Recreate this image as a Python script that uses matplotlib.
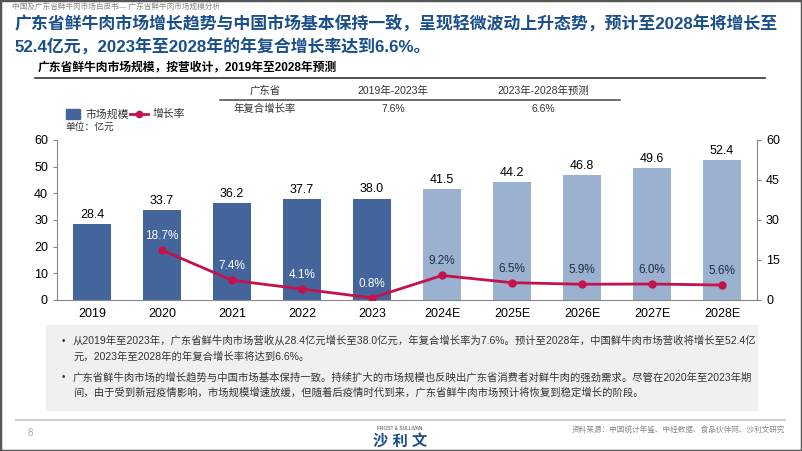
import matplotlib
matplotlib.use("Agg")
import matplotlib.pyplot as plt
from matplotlib.patches import Rectangle
from matplotlib.lines import Line2D

plt.rcParams['font.family'] = ['Liberation Sans', 'Noto Sans CJK SC']

# 数据
years = ["2019", "2020", "2021", "2022", "2023", "2024E", "2025E", "2026E", "2027E", "2028E"]
market_size = [28.4, 33.7, 36.2, 37.7, 38.0, 41.5, 44.2, 46.8, 49.6, 52.4]
growth_years = ["2020", "2021", "2022", "2023", "2024E", "2025E", "2026E", "2027E", "2028E"]
growth_rate = [18.7, 7.4, 4.1, 0.8, 9.2, 6.5, 5.9, 6.0, 5.6]
n_actual = 5

cagr_header = ["广东省", "2019年-2023年", "2023年-2028年预测"]
cagr_row = ["年复合增长率", "7.6%", "6.6%"]

W, H = 802, 451
DARK = "#44659b"
LIGHT = "#9bb1d0"
RED = "#c4124a"
TITLE = "#1b4f8a"


def px(x, y):
    return x / W, 1 - y / H


def main():
    fig = plt.figure(figsize=(W / 100, H / 100), dpi=100)

    # 外框
    fig.patches.append(Rectangle((0, 0), 1, 1, transform=fig.transFigure,
                                 fill=False, ec="#555555", lw=2.5))

    fig.text(*px(12, 7), "中国及广东省鲜牛肉市场白皮书— 广东省鲜牛肉市场规模分析",
             fontsize=5.5, color="#888888", va="center")
    fig.text(*px(15, 24), "广东省鲜牛肉市场增长趋势与中国市场基本保持一致，呈现轻微波动上升态势，预计至2028年将增长至",
             fontsize=12.2, color=TITLE, fontweight="bold", va="center")
    fig.text(*px(15, 47), "52.4亿元，2023年至2028年的年复合增长率达到6.6%。",
             fontsize=12.2, color=TITLE, fontweight="bold", va="center")

    fig.text(*px(38, 68), "广东省鲜牛肉市场规模，按营收计，2019年至2028年预测",
             fontsize=8.5, fontweight="bold", va="center")
    fig.lines.append(Line2D([35 / W, 765 / W], [1 - 78 / H] * 2, color="#333333", lw=1.2,
                            transform=fig.transFigure))

    # 复合增长率表
    col_x = [265, 393, 543]
    for x, h in zip(col_x, cagr_header):
        fig.text(*px(x, 91), h, fontsize=7.5, ha="center", va="center", color="#333333")
    for x, r in zip(col_x, cagr_row):
        fig.text(*px(x, 109), r, fontsize=7.5, ha="center", va="center", color="#333333")
    fig.lines.append(Line2D([220 / W, 620 / W], [1 - 100 / H] * 2, color="#555555", lw=1.2,
                            transform=fig.transFigure))

    # 图例
    fig.patches.append(Rectangle(px(66, 119), 14 / W, 10 / H, transform=fig.transFigure,
                                 color=DARK))
    fig.text(*px(85, 114), "市场规模", fontsize=7.8, va="center", color="#333333")
    fig.lines.append(Line2D([130 / W, 148 / W], [1 - 114 / H] * 2, color=RED, lw=2,
                            transform=fig.transFigure))
    fig.lines.append(Line2D([139 / W], [1 - 114 / H], color=RED, marker="o", markersize=4.5,
                            transform=fig.transFigure))
    fig.text(*px(153, 114), "增长率", fontsize=7.8, va="center", color="#333333")
    fig.text(*px(65, 127), "单位：亿元", fontsize=7, va="center", color="#333333")

    # 主图
    ax = fig.add_axes([57 / W, 1 - 300 / H, 700 / W, 160 / H])
    x = list(range(len(years)))
    colors = [DARK if i < n_actual else LIGHT for i in x]
    bars = ax.bar(x, market_size, width=0.53, color=colors)
    for b, v in zip(bars, market_size):
        ax.text(b.get_x() + b.get_width() / 2, v + 1.2, f"{v:.1f}", ha="center", va="bottom",
                fontsize=9)
    ax.set_xlim(-0.5, len(years) - 0.5)
    ax.set_ylim(0, 60)
    ax.set_yticks(range(0, 61, 10))
    ax.set_xticks(x)
    ax.set_xticklabels(years)
    ax.spines["top"].set_visible(False)
    ax.spines["right"].set_visible(False)
    for s in ("left", "bottom"):
        ax.spines[s].set_color("#888888")
    ax.tick_params(axis="y", labelsize=9, color="#888888", length=3)
    ax.tick_params(axis="x", labelsize=9, length=0, pad=6)

    ax2 = ax.twinx()
    gx = [years.index(g) for g in growth_years]
    ax2.plot(gx, growth_rate, color=RED, lw=2, marker="o", markersize=5)
    for xi, g in zip(gx, growth_rate):
        c = "white" if xi < n_actual else "#1f2d4a"
        ax2.text(xi, g + 3.0, f"{g:.1f}%", ha="center", va="bottom", fontsize=8.5, color=c)
    ax2.set_ylim(0, 60)
    ax2.set_yticks(range(0, 61, 15))
    ax2.spines["top"].set_visible(False)
    ax2.spines["left"].set_visible(False)
    ax2.spines["bottom"].set_visible(False)
    ax2.spines["right"].set_color("#888888")
    ax2.tick_params(axis="y", labelsize=9, color="#888888", length=3)

    # 说明框
    fig.patches.append(Rectangle(px(46, 410), 711 / W, 85 / H, transform=fig.transFigure,
                                 color="#f0f0f0", zorder=0))
    lines = [
        (341, "•", "从2019年至2023年，广东省鲜牛肉市场营收从28.4亿元增长至38.0亿元，年复合增长率为7.6%。预计至2028年，中国鲜牛肉市场营收将增长至52.4亿"),
        (357, "", "元，2023年至2028年的年复合增长率将达到6.6%。"),
        (377, "•", "广东省鲜牛肉市场的增长趋势与中国市场基本保持一致。持续扩大的市场规模也反映出广东省消费者对鲜牛肉的强劲需求。尽管在2020年至2023年期"),
        (393, "", "间，由于受到新冠疫情影响，市场规模增速放缓，但随着后疫情时代到来，广东省鲜牛肉市场预计将恢复到稳定增长的阶段。"),
    ]
    for y, bullet, t in lines:
        if bullet:
            fig.text(*px(62, y), bullet, fontsize=7, va="center", color="#333333")
        fig.text(*px(73, y), t, fontsize=7.45, va="center", color="#333333")

    # 页脚
    fig.lines.append(Line2D([16 / W, 785 / W], [1 - 420 / H] * 2, color="#d0d0d0", lw=1.5,
                            transform=fig.transFigure))
    fig.text(*px(28, 433), "8", fontsize=7, color="#aaaaaa", va="center")
    fig.text(*px(400, 428), "FROST & SULLIVAN", fontsize=3.5, color="#444444", ha="center",
             va="center")
    fig.text(*px(400, 441), "沙 利 文", fontsize=11, color=TITLE, ha="center", va="center",
             fontweight="bold")
    fig.text(*px(785, 431), "资料来源：中国统计年鉴、中经数据、食品伙伴网、沙利文研究", fontsize=5.5,
             color="#888888", ha="right", va="center")

    fig.savefig("out.png", dpi=100)


if __name__ == "__main__":
    main()
